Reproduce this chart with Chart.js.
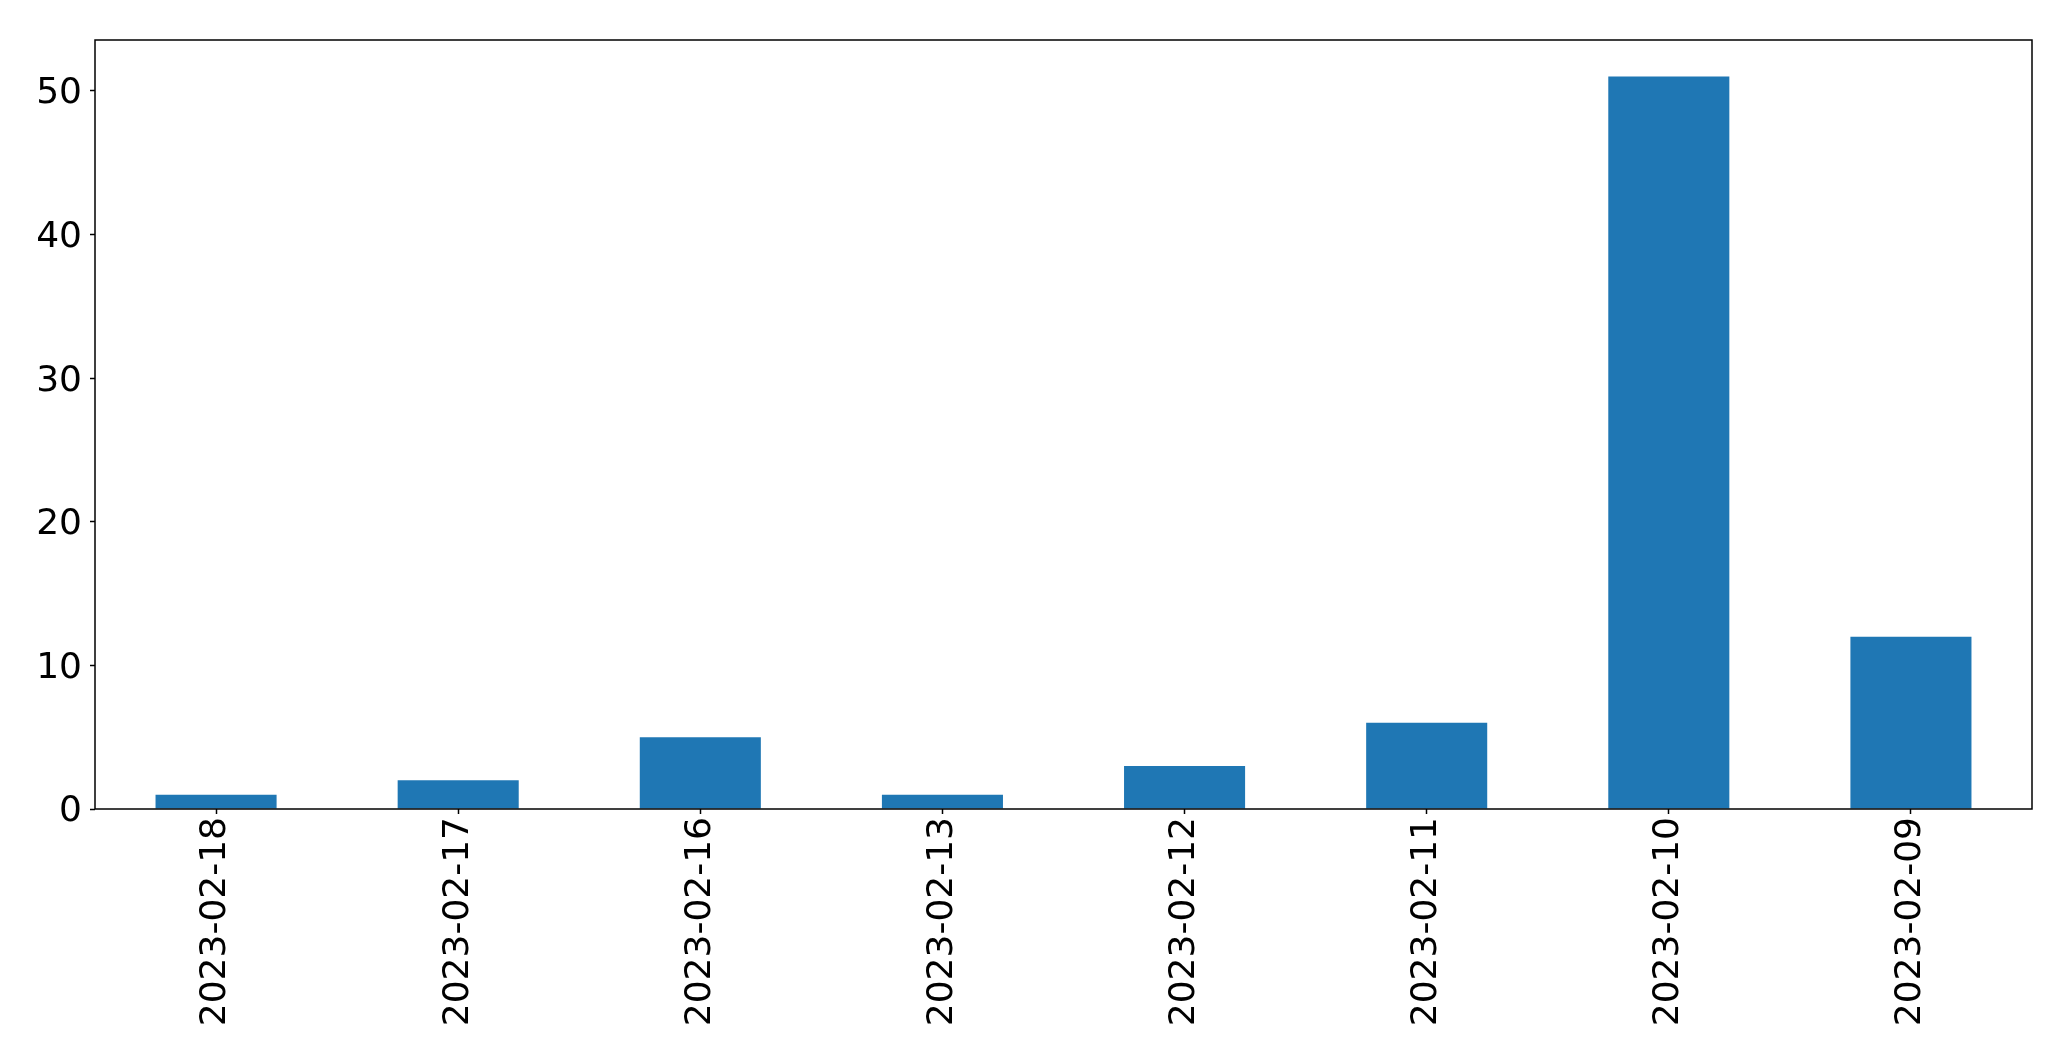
<!DOCTYPE html>
<html>
<head>
<meta charset="utf-8">
<script src="https://cdn.jsdelivr.net/npm/chart.js@4"></script>
<style>
  html, body { margin: 0; padding: 0; background: #fff; }
  #wrap { width: 2071px; height: 1061px; }
</style>
</head>
<body>
<div id="wrap"><canvas id="barChart" width="2071" height="1061"></canvas></div>
<script>
// Data
const dates = ['2023-02-18', '2023-02-17', '2023-02-16', '2023-02-13', '2023-02-12', '2023-02-11', '2023-02-10', '2023-02-09'];
const counts = [1, 2, 5, 1, 3, 6, 51, 12];
const yTicks = [0, 10, 20, 30, 40, 50];

// Black frame around the plot area
const frame = {
    id: 'frame',
    afterDraw(chart) {
        const a = chart.chartArea;
        const ctx = chart.ctx;
        ctx.save();
        ctx.strokeStyle = '#000';
        ctx.lineWidth = 1.5;
        ctx.strokeRect(a.left, a.top, a.right - a.left, a.bottom - a.top);
        ctx.restore();
    }
};

const barChart = new Chart(document.getElementById('barChart'), {
    type: 'bar',
    data: {
        labels: dates,
        datasets: [{
            data: counts,
            backgroundColor: '#1f77b4',
            borderWidth: 0,
            categoryPercentage: 1,
            barPercentage: 0.5
        }]
    },
    options: {
        responsive: false,
        animation: false,
        layout: { padding: { left: 0, top: 40, right: 39, bottom: 0 } },
        plugins: {
            legend: { display: false },
            tooltip: { enabled: false }
        },
        scales: {
            x: {
                offset: true,
                grid: { display: true, drawOnChartArea: false, offset: false, tickLength: 5, color: '#000', tickWidth: 1.5 },
                border: { display: false },
                ticks: {
                    minRotation: 90,
                    maxRotation: 90,
                    padding: 3,
                    color: '#000',
                    font: { family: 'DejaVu Sans', size: 36 }
                },
                afterFit(scale) { scale.height = 252; }
            },
            y: {
                min: 0,
                max: 53.55,
                grid: { display: true, drawOnChartArea: false, tickLength: 5, color: '#000', tickWidth: 1.5 },
                border: { display: false },
                ticks: {
                    stepSize: 10,
                    padding: 8,
                    labelOffset: 3,
                    color: '#000',
                    font: { family: 'DejaVu Sans', size: 36 }
                },
                afterBuildTicks(scale) {
                    scale.ticks = yTicks.map(v => ({ value: v }));
                },
                afterFit(scale) { scale.width = 95; }
            }
        }
    },
    plugins: [frame]
});
</script>
</body>
</html>
